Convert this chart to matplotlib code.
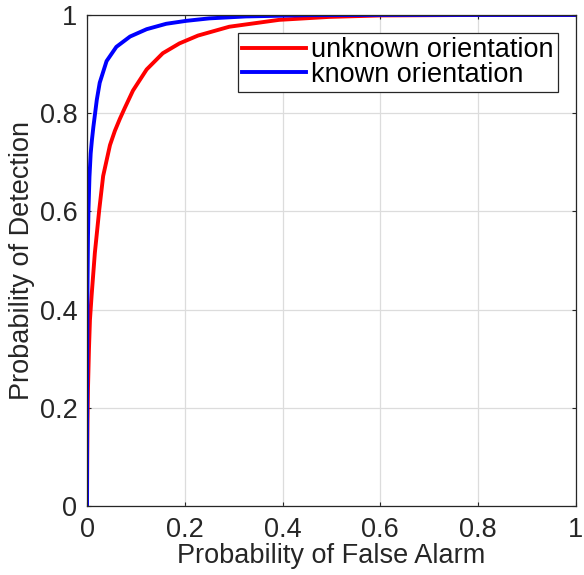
import numpy as np
import matplotlib.pyplot as plt

plt.rcParams['font.family'] = ['Liberation Sans', 'DejaVu Sans']

# ROC curves
fa_unknown = [0, 0.0005, 0.001, 0.002, 0.004, 0.006, 0.0095, 0.016, 0.025, 0.033,
              0.047, 0.057, 0.067, 0.077, 0.094, 0.122, 0.155, 0.189, 0.227,
              0.291, 0.393, 0.495, 0.6, 0.8, 1.0]
pd_unknown = [0, 0.1, 0.17, 0.24, 0.32, 0.379, 0.43, 0.515, 0.603, 0.672,
              0.735, 0.764, 0.788, 0.81, 0.846, 0.889, 0.922, 0.942, 0.958,
              0.976, 0.990, 0.996, 0.999, 1.0, 1.0]

fa_known = [0, 0.0003, 0.001, 0.002, 0.003, 0.005, 0.0075, 0.010, 0.013, 0.020,
            0.026, 0.040, 0.060, 0.088, 0.122, 0.162, 0.203, 0.25, 0.325, 0.45,
            0.6, 1.0]
pd_known = [0, 0.3, 0.45, 0.55, 0.603, 0.67, 0.718, 0.745, 0.772, 0.827,
            0.862, 0.906, 0.935, 0.956, 0.971, 0.982, 0.988, 0.993, 0.997, 0.9995,
            1.0, 1.0]

ticks = [0, 0.2, 0.4, 0.6, 0.8, 1]
tick_labels = ['0', '0.2', '0.4', '0.6', '0.8', '1']

fig = plt.figure(figsize=(5.84, 5.75), dpi=100)
ax = fig.add_axes([0.149, 0.120, 0.837, 0.854])

ax.plot(fa_unknown, pd_unknown, color='#ff0000', lw=2.8, label='unknown orientation',
        solid_joinstyle='round')
ax.plot(fa_known, pd_known, color='#0000ff', lw=2.8, label='known orientation',
        solid_joinstyle='round')

ax.set_xlim(0, 1)
ax.set_ylim(0, 1)
ax.set_xticks(ticks)
ax.set_xticklabels(tick_labels)
ax.set_yticks(ticks)
ax.set_yticklabels(tick_labels)
ax.grid(True, color='#dcdcdc', lw=0.9)
ax.set_axisbelow(True)
for s in ax.spines.values():
    s.set_color('#262626')
    s.set_linewidth(0.9)
ax.tick_params(direction='in', length=3, width=0.8, top=True, right=True,
               labelsize=19.5, colors='#262626')
ax.tick_params(axis='x', pad=8)
ax.tick_params(axis='y', pad=7)

ax.set_xlabel('Probability of False Alarm', fontsize=19.5, color='#262626', labelpad=0)
ax.set_ylabel('Probability of Detection', fontsize=19.5, color='#262626', labelpad=3)

leg = ax.legend(loc='upper right', bbox_to_anchor=(0.963, 0.963), fontsize=19.5,
                fancybox=False, framealpha=1, edgecolor='#262626',
                handlelength=2.35, handletextpad=0.2, borderpad=0.15,
                labelspacing=-0.05, borderaxespad=0)
leg.get_frame().set_linewidth(0.9)

fig.savefig('out.png', dpi=100)
